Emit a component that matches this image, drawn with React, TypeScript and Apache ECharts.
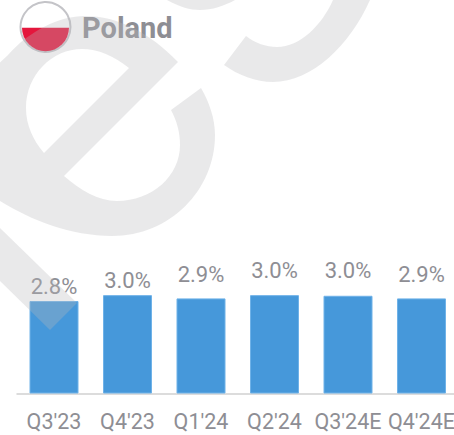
import React, { useEffect, useRef } from "react";
import * as echarts from "echarts";

const categories = ["Q3'23", "Q4'23", "Q1'24", "Q2'24", "Q3'24E", "Q4'24E"];
const growth = [2.82, 3.0, 2.9, 3.0, 2.98, 2.9];
const labelGaps = [4, 3.5, 13, 13.5, 14, 13];
const title = "Poland";

const TEXT = "#8e8e94";
const WATERMARK = "rgba(185,185,188,0.31)";

const E_PATH =
  "M178,62 C150,33 118,16 85,16 C60,16 30,30 8,55 L-40,100 L-40,170 C-10,200 50,236 112,236 C170,236 215,190 215,135 C215,118 209,102 201,88 L171,110 C177,121 180,133 180,145 C180,176 152,201 117,201 C98,201 80,190 64,176 Z " +
  "M129,68 L44,153 C33,140 26,125 26,108 C26,75 52,49 82,49 C98,49 114,56 129,68 Z";
const S_PATH =
  "M246,36 C255,43 266,47 277,47 C300,47 322,25 333,0 L370,0 C350,45 312,82 273,82 C256,82 238,75 224,65 Z";
const TOP_PATH = "M167,0 C180,7 190,10 200,10 C212,10 224,6 235,0 Z";

echarts.graphic.registerShape("wmE", echarts.graphic.extendPath(E_PATH, {}) as any);
echarts.graphic.registerShape("wmS", echarts.graphic.extendPath(S_PATH, {}) as any);
echarts.graphic.registerShape("wmTop", echarts.graphic.extendPath(TOP_PATH, {}) as any);

export default function App() {
  const ref = useRef<HTMLDivElement>(null);
  useEffect(() => {
    document.body.style.margin = "0";
    const chart = echarts.init(ref.current!, undefined, { renderer: "svg" });
    chart.setOption({
      animation: false,
      backgroundColor: "#ffffff",
      title: {
        text: title,
        left: 77,
        top: 8,
        textStyle: { fontFamily: "Roboto", fontWeight: "bold", fontSize: 29, color: TEXT },
      },
      grid: { left: 17.25, width: 441, top: 0, height: 393.5, outerBoundsMode: "none" },
      xAxis: {
        type: "category",
        data: categories,
        axisTick: { show: false },
        axisLine: { lineStyle: { color: "#dcdcdc", width: 2 } },
        axisLabel: {
          interval: 0,
          margin: 17,
          fontFamily: "Roboto",
          fontSize: 21.5,
          color: TEXT,
          hideOverlap: false,
        },
      },
      yAxis: { type: "value", min: 0, max: 12, show: false },
      series: [
        {
          type: "bar",
          barWidth: 49,
          itemStyle: { color: "#4698da", borderColor: "#6fb2e8", borderWidth: 1 },
          data: growth.map((v, i) => ({
            value: v,
            label: { distance: labelGaps[i] },
          })),
          label: {
            show: true,
            position: "top",
            fontFamily: "Roboto",
            fontSize: 22,
            color: TEXT,
            formatter: (p: any) => `${p.value.toFixed(1)}%`,
          },
        },
      ],
      graphic: [
        { type: "circle", z: 50, shape: { cx: 45.5, cy: 27, r: 25 }, style: { fill: "#ffffff", stroke: "#c4c4c8", lineWidth: 2 } },
        { type: "sector", z: 51, shape: { cx: 45.5, cy: 27.7, r: 23.5, r0: 0, startAngle: 0, endAngle: Math.PI, clockwise: true }, style: { fill: "#e4163c" } },
        { type: "wmE", z: 100, style: { fill: WATERMARK } },
        { type: "wmS", z: 100, style: { fill: WATERMARK } },
        { type: "wmTop", z: 100, style: { fill: WATERMARK } },
        { type: "polygon", z: 100, shape: { points: [[0, 228], [77, 303], [50, 330], [0, 281]] }, style: { fill: WATERMARK } },
      ],
    });
    return () => chart.dispose();
  }, []);
  return <div ref={ref} style={{ width: 454, height: 435, overflow: "hidden" }} />;
}
